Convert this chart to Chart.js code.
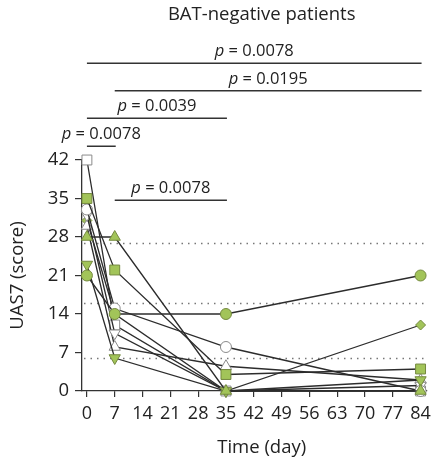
<!DOCTYPE html>
<html><head><meta charset="utf-8">
<script src="https://cdn.jsdelivr.net/npm/chart.js@4/dist/chart.umd.min.js"></script>
<style>html,body{margin:0;padding:0;background:#fff}</style>
</head><body>
<canvas id="c" width="437" height="461"></canvas>
<script>
// ---- data ----
const days = [0, 7, 35, 84];
const xTicks = [0, 7, 14, 21, 28, 35, 42, 49, 56, 63, 70, 77, 84];
const yTicks = [0, 7, 14, 21, 28, 35, 42];
const whiteSquare   = [42, 12, 0, 0];
const greenSquare   = [35, 22, 3, 4];
const whiteCircle   = [33, 15, 8, 0];
const whiteTriDown  = [32, 10.5, 0, 1];
const whiteTriUp    = [30, 8, 4.5, 2];
const greenTriUp    = [28, 28, 0, 0];
const greenTriDown  = [23, 6, 0, 2];
const greenCircle   = [21, 14, 14, 21];
const greenDiamond  = [31, 14, 0, 12];
const thresholds = [6, 16, 27];
const bracketFrom  = [0, 7, 0, 0, 7];
const bracketTo    = [84, 84, 35, 7, 35];
const bracketLevel = [59.6, 54.6, 49.6, 44.5, 34.7];
const bracketP     = ['0.0078', '0.0195', '0.0039', '0.0078', '0.0078'];
const titleText = 'BAT-negative patients';
const xTitle = 'Time (day)';
const yTitle = 'UAS7 (score)';

const FONT = '"Open Sans", "Noto Sans", sans-serif';
const GREEN = '#a2c459';
const GREEN_BORDER = '#74893f';
const WHITE_BORDER = '#8a8a8a';
const LINE = '#2c2c2c';

function series(vals, style, fill, border, radius, rotation) {
  return {
    data: days.map((d, i) => ({x: d, y: vals[i]})),
    showLine: true,
    borderColor: LINE,
    borderWidth: 1.3,
    pointStyle: style,
    pointRotation: rotation || 0,
    pointRadius: radius,
    pointHoverRadius: radius,
    pointBackgroundColor: fill,
    pointBorderColor: border,
    pointBorderWidth: 1,
    clip: false
  };
}

const datasets = [
  series(greenCircle, 'circle', GREEN, GREEN_BORDER, 5.5),
  series(greenSquare, 'rect', GREEN, GREEN_BORDER, 7),
  series(greenTriUp, 'triangle', GREEN, GREEN_BORDER, 6.5),
  series(greenTriDown, 'triangle', GREEN, GREEN_BORDER, 6.5, 180),
  series(whiteCircle, 'circle', '#fff', WHITE_BORDER, 5.5),
  series(whiteTriDown, 'triangle', '#fff', WHITE_BORDER, 6.5, 180),
  series(whiteTriUp, 'triangle', '#fff', WHITE_BORDER, 6.5),
  series(greenDiamond, 'rectRot', GREEN, GREEN_BORDER, 5),
  series(whiteSquare, 'rect', '#fff', WHITE_BORDER, 7)
];

const annot = {
  id: 'annot',
  beforeDatasetsDraw(chart) {
    const {ctx, chartArea, scales: {y}} = chart;
    ctx.save();
    ctx.strokeStyle = '#777';
    ctx.lineWidth = 1.3;
    ctx.setLineDash([1.5, 5]);
    thresholds.forEach(t => {
      const py = Math.round(y.getPixelForValue(t)) + 0.5;
      ctx.beginPath();
      ctx.moveTo(chartArea.left + 2, py);
      ctx.lineTo(chartArea.right, py);
      ctx.stroke();
    });
    ctx.restore();
  },
  afterDraw(chart) {
    const {ctx, chartArea, scales: {x, y}} = chart;
    ctx.save();
    ctx.strokeStyle = '#333';
    ctx.lineWidth = 1.5;
    ctx.fillStyle = '#222';
    ctx.textBaseline = 'alphabetic';
    const PF = '16.5px ';
    bracketFrom.forEach((f, i) => {
      const x1 = x.getPixelForValue(f), x2 = x.getPixelForValue(bracketTo[i]) + 1;
      const py = y.getPixelForValue(bracketLevel[i]);
      ctx.beginPath();
      ctx.moveTo(x1, py); ctx.lineTo(x2, py); ctx.stroke();
      const a = 'p', b = ' = ' + bracketP[i];
      ctx.font = 'italic ' + PF + FONT;
      const wa = ctx.measureText(a).width;
      ctx.font = PF + FONT;
      const wb = ctx.measureText(b).width;
      const sx = (x1 + x2) / 2 - (wa + wb) / 2;
      const by = py - 7;
      ctx.font = 'italic ' + PF + FONT;
      ctx.fillText(a, sx, by);
      ctx.font = PF + FONT;
      ctx.fillText(b, sx + wa, by);
    });
    const cx = x.getPixelForValue(44);
    ctx.textAlign = 'center';
    ctx.textBaseline = 'middle';
    ctx.font = '18.5px ' + FONT;
    ctx.fillText(titleText, cx, 15);
    ctx.fillText(xTitle, cx, 448);
    ctx.save();
    ctx.translate(18, (chartArea.top + chartArea.bottom) / 2);
    ctx.rotate(-Math.PI / 2);
    ctx.fillText(yTitle, 0, 0);
    ctx.restore();
    ctx.restore();
  }
};

new Chart(document.getElementById('c'), {
  type: 'scatter',
  data: {datasets},
  options: {
    responsive: false,
    animation: false,
    devicePixelRatio: 1,
    layout: {padding: {top: 160, right: 6, left: 0, bottom: 0}},
    plugins: {legend: {display: false}, tooltip: {enabled: false}},
    scales: {
      x: {
        type: 'linear', min: -1.24, max: 85.5,
        afterBuildTicks: s => { s.ticks = xTicks.map(v => ({value: v})); },
        afterFit: s => { s.height = 70; },
        grid: {drawOnChartArea: false, drawTicks: true, tickLength: 6, color: '#333', lineWidth: 1.2},
        border: {color: '#333', width: 1.3},
        ticks: {font: {size: 18, family: FONT}, color: '#222', padding: 6, autoSkip: false, maxRotation: 0}
      },
      y: {
        min: 0, max: 42,
        afterBuildTicks: s => { s.ticks = yTicks.map(v => ({value: v})); },
        afterFit: s => { s.width = 82; },
        grid: {drawOnChartArea: false, drawTicks: true, tickLength: 7, color: '#333', lineWidth: 1.2},
        border: {color: '#333', width: 1.3},
        ticks: {font: {size: 18.5, family: FONT}, color: '#222', padding: 6}
      }
    }
  },
  plugins: [annot]
});
</script>
</body></html>
